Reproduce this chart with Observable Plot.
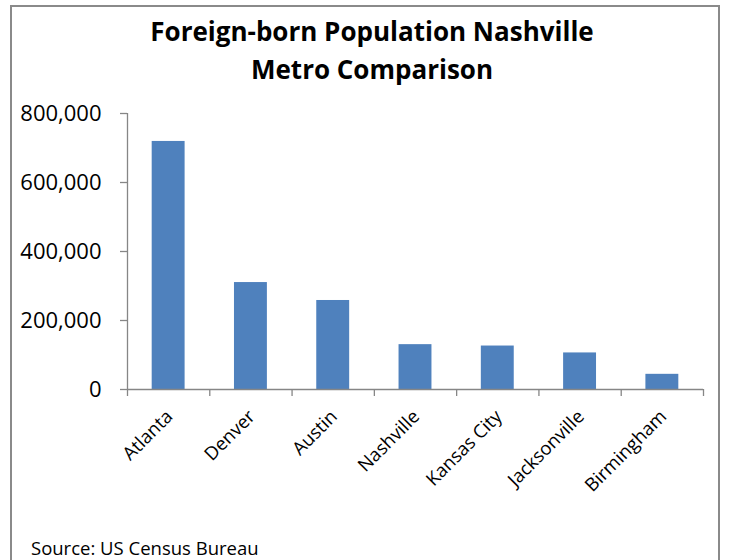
<!DOCTYPE html>
<html>
<head>
<meta charset="utf-8">
<script src="https://cdn.jsdelivr.net/npm/d3@7"></script>
<script src="https://cdn.jsdelivr.net/npm/@observablehq/plot@0.6"></script>
<style>
  html, body { margin: 0; padding: 0; background: #fff; overflow: hidden; }
  #wrap { position: relative; width: 730px; height: 560px; overflow: hidden; font-family: "Open Sans", sans-serif; }
  #frame { position: absolute; left: 10px; top: 5px; width: 706px; height: 600px; border: 2px solid #8a8a8a; }
  #title { position: absolute; left: 19px; top: 12px; width: 706px; text-align: center; font-weight: bold; font-size: 26px; line-height: 38px; color: #000; }
  #chart { position: absolute; left: 0; top: 92px; }
  #caption { position: absolute; left: 31px; top: 538px; font-size: 18.5px; line-height: 20px; color: #000; }
</style>
</head>
<body>
<div id="wrap">
  <div id="frame"></div>
  <div id="title">Foreign-born Population Nashville<br>Metro Comparison</div>
  <div id="chart"></div>
  <div id="caption">Source: US Census Bureau</div>
</div>
<script>
const cities = ["Atlanta", "Denver", "Austin", "Nashville", "Kansas City", "Jacksonville", "Birmingham"];
const population = [719000, 310000, 258000, 130000, 126000, 106000, 44000];
const yTicks = [0, 200000, 400000, 600000, 800000];

const data = cities.map((city, i) => ({city, pop: population[i], i}));
const bounds = d3.range(0, cities.length + 1);
const axisColor = "#868686";

const chart = Plot.plot({
  width: 730,
  height: 430,
  marginTop: 21,
  marginBottom: 133,
  marginLeft: 127,
  marginRight: 27,
  style: {fontFamily: "Open Sans", background: "transparent", overflow: "visible"},
  x: {type: "linear", domain: [0, cities.length], axis: null},
  y: {domain: [0, 800000], axis: null},
  marks: [
    Plot.rectY(data, {x1: d => d.i + 0.3, x2: d => d.i + 0.7, y: "pop", fill: "#4f81bd"}),
    Plot.ruleX([0], {stroke: axisColor, strokeWidth: 1.3}),
    Plot.ruleY(yTicks, {y: d => d, x1: 0, x2: 0, insetLeft: -7, stroke: axisColor, strokeWidth: 1.3}),
    Plot.ruleY([0], {stroke: axisColor, strokeWidth: 1.3}),
    Plot.ruleX(bounds, {x: d => d, y1: 0, y2: 0, insetBottom: -7, stroke: axisColor, strokeWidth: 1.3}),
    Plot.text(yTicks, {x: 0, y: d => d, text: d => d3.format(",")(d), textAnchor: "end", dx: -26, fontSize: 22, fill: "#000"}),
    Plot.text(data, {x: d => d.i + 0.5, y: () => 0, text: "city", rotate: -45, textAnchor: "end", lineAnchor: "middle", dy: 24, dx: 1, fontSize: 18.5, fill: "#000"})
  ]
});
document.getElementById("chart").appendChild(chart);
</script>
</body>
</html>
